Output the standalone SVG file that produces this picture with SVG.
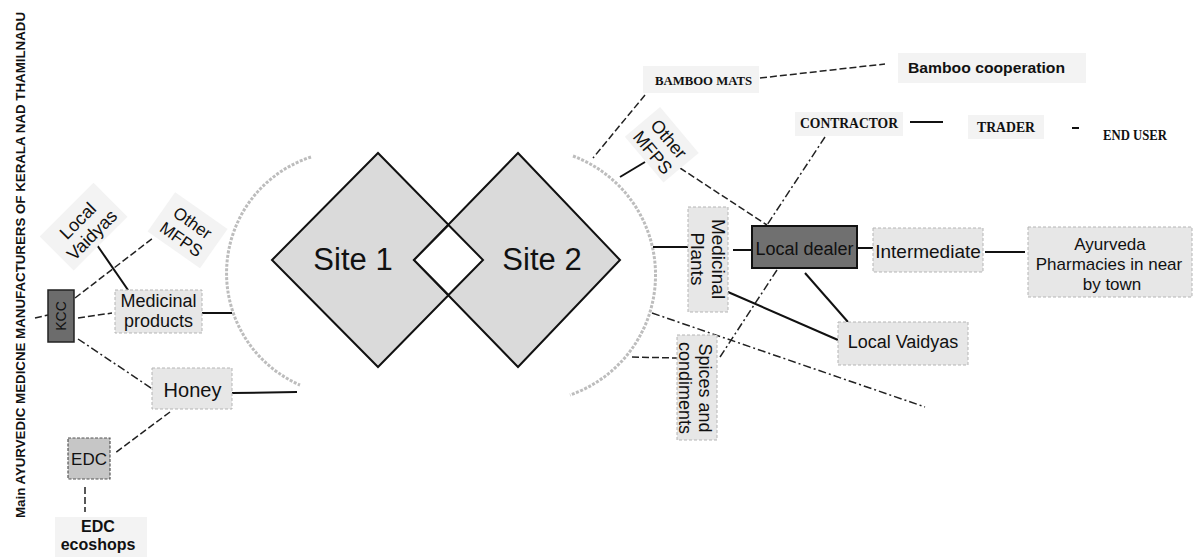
<svg xmlns="http://www.w3.org/2000/svg" width="1201" height="557" viewBox="0 0 1201 557">
<style>
  .lbl{font-family:"Liberation Sans",Arial,sans-serif;fill:#111;}
  .ser{font-family:"Liberation Serif","Times New Roman",serif;font-weight:bold;fill:#111;}
  .bg{fill:#e7e7e7;stroke:#b5b5b5;stroke-width:1;stroke-dasharray:3 2;}
  .faint{fill:#f3f3f3;stroke:none;}
  .dia{fill:#dadada;stroke:#111;stroke-width:2;}
  .solid{stroke:#111;stroke-width:2;fill:none;}
  .dash{stroke:#222;stroke-width:1.5;fill:none;stroke-dasharray:7 3;}
  .dd{stroke:#222;stroke-width:1.5;fill:none;stroke-dasharray:8 3 2 3;}
  .arc{stroke:#bdbdbd;stroke-width:3;fill:none;stroke-dasharray:3 1.5;}
</style>
<rect width="1201" height="557" fill="#ffffff"/>

<!-- vertical title -->
<g id="title">
  <text class="lbl" transform="translate(19,265) rotate(-90)" y="6" text-anchor="middle" font-size="13" font-weight="bold" textLength="506" lengthAdjust="spacingAndGlyphs">Main AYURVEDIC MEDICNE MANUFACTURERS OF KERALA NAD THAMILNADU</text>
</g>

<!-- arcs -->
<g id="arcs">
  <path class="arc" d="M 311 157 A 122 122 0 0 0 300 385"/>
  <path class="arc" d="M 573 156 A 127 127 0 0 1 570 395"/>
</g>

<!-- connectors -->
<g id="connectors">
  <line class="dash" x1="35" y1="318" x2="48" y2="315"/>
  <line class="dash" x1="75" y1="298" x2="153" y2="238"/>
  <line class="solid" x1="97" y1="245" x2="128" y2="290"/>
  <line class="dash" x1="78" y1="318" x2="112" y2="313"/>
  <line class="dd" x1="78" y1="339" x2="160" y2="394"/>
  <line class="solid" x1="202" y1="313" x2="232" y2="313"/>
  <line class="solid" x1="232" y1="393" x2="297" y2="392"/>
  <line class="dash" x1="170" y1="412" x2="115" y2="453"/>
  <line class="dash" x1="85" y1="487" x2="85" y2="512" stroke-dasharray="5 3"/>

  <line class="dash" x1="645" y1="95" x2="593" y2="158"/>
  <line class="dash" x1="760" y1="78" x2="885" y2="64"/>
  <line class="solid" x1="620" y1="177" x2="645" y2="162"/>
  <line class="dash" x1="680" y1="168" x2="767" y2="225"/>
  <line class="dd" x1="825" y1="137" x2="767" y2="225"/>
  <line class="dd" x1="777" y1="270" x2="720" y2="357"/>
  <line class="solid" x1="910" y1="122" x2="943" y2="122" stroke-width="1.5"/>
  <line class="solid" x1="1072" y1="128" x2="1079" y2="128" stroke-width="1.5"/>
  <line class="solid" x1="653" y1="247" x2="688" y2="247"/>
  <line class="solid" x1="733" y1="250" x2="752" y2="250"/>
  <line class="solid" x1="857" y1="248" x2="873" y2="248"/>
  <line class="solid" x1="985" y1="252" x2="1025" y2="252"/>
  <line class="solid" x1="805" y1="273" x2="848" y2="322"/>
  <line class="solid" x1="728" y1="292" x2="838" y2="340"/>
  <line class="dd" x1="652" y1="313" x2="925" y2="407"/>
  <line class="dash" x1="632" y1="357" x2="677" y2="358"/>
</g>

<!-- diamonds -->
<g id="site1">
  <polygon class="dia" points="272,260 378,153 483,260 378,367"/>
</g>
<g id="site2">
  <polygon class="dia" points="414,260 518,153 620,260 518,367"/>
  <polygon points="448.5,225 483,260 448.5,295 414,260" fill="#ffffff" stroke="#111" stroke-width="2"/>
  <text class="lbl" x="353" y="270" text-anchor="middle" font-size="31">Site 1</text>
  <text class="lbl" x="542" y="270" text-anchor="middle" font-size="31">Site 2</text>
</g>

<!-- left side nodes -->
<g id="kcc">
  <rect x="48" y="290" width="26" height="52" fill="#6c6c6c" stroke="#222" stroke-width="1.5"/>
  <text class="lbl" transform="translate(61,316) rotate(-90)" y="5" text-anchor="middle" font-size="14">KCC</text>
</g>
<g id="local-vaidyas-left" transform="translate(85,228) rotate(-45)">
  <rect class="faint" x="-38" y="-26" width="76" height="48" fill="#ececec"/>
  <text class="lbl" y="-4" text-anchor="middle" font-size="18">Local</text>
  <text class="lbl" y="16" text-anchor="middle" font-size="18">Vaidyas</text>
</g>
<g id="other-mfps-left" transform="translate(187,231) rotate(35)">
  <rect class="faint" x="-32" y="-25" width="64" height="48" fill="#ececec"/>
  <text class="lbl" y="-4" text-anchor="middle" font-size="17">Other</text>
  <text class="lbl" y="16" text-anchor="middle" font-size="17">MFPS</text>
</g>
<g id="medicinal-products">
  <rect class="bg" x="115" y="290" width="87" height="43"/>
  <text class="lbl" x="158.5" y="307" text-anchor="middle" font-size="18">Medicinal</text>
  <text class="lbl" x="158.5" y="327" text-anchor="middle" font-size="18">products</text>
</g>
<g id="honey">
  <rect class="bg" x="152" y="368" width="80" height="41"/>
  <text class="lbl" x="192.5" y="397" text-anchor="middle" font-size="20">Honey</text>
</g>
<g id="edc">
  <rect x="68" y="438" width="42" height="41" fill="#c6c6c6" stroke="#555" stroke-width="1.2" stroke-dasharray="3 1.5"/>
  <text class="lbl" x="89" y="465" text-anchor="middle" font-size="17">EDC</text>
</g>
<g id="edc-ecoshops">
  <rect class="faint" x="55" y="517" width="92" height="40"/>
  <text class="lbl" x="98" y="532" text-anchor="middle" font-size="16" font-weight="bold">EDC</text>
  <text class="lbl" x="98" y="550" text-anchor="middle" font-size="16" font-weight="bold">ecoshops</text>
</g>

<!-- right side nodes -->
<g id="bamboo-mats">
  <rect class="faint" x="643" y="66" width="116" height="27"/>
  <text class="ser" x="655" y="85" font-size="13" textLength="97" lengthAdjust="spacingAndGlyphs">BAMBOO MATS</text>
</g>
<g id="bamboo-cooperation">
  <rect class="faint" x="898" y="53" width="188" height="30" fill="#efefef"/>
  <text class="lbl" x="908" y="73" font-size="15" font-weight="bold" textLength="157" lengthAdjust="spacingAndGlyphs">Bamboo cooperation</text>
</g>
<g id="other-mfps-right" transform="translate(661,145.5) rotate(50)">
  <rect class="faint" x="-30" y="-24" width="60" height="46" fill="#f0f0f0"/>
  <text class="lbl" y="-4" text-anchor="middle" font-size="18">Other</text>
  <text class="lbl" y="17" text-anchor="middle" font-size="18">MFPS</text>
</g>
<g id="contractor">
  <rect class="faint" x="795" y="112" width="108" height="24"/>
  <text class="ser" x="800" y="128" font-size="14" textLength="98" lengthAdjust="spacingAndGlyphs">CONTRACTOR</text>
</g>
<g id="trader">
  <rect class="faint" x="968" y="115" width="76" height="24"/>
  <text class="ser" x="977" y="132" font-size="14" textLength="58" lengthAdjust="spacingAndGlyphs">TRADER</text>
</g>
<g id="end-user">
  <text class="ser" x="1103" y="140" font-size="14" textLength="64" lengthAdjust="spacingAndGlyphs">END USER</text>
</g>
<g id="medicinal-plants">
  <rect class="bg" x="688" y="207" width="40" height="105"/>
  <g transform="translate(708,259) rotate(90)">
    <text class="lbl" y="-3.5" text-anchor="middle" font-size="19">Medicinal</text>
    <text class="lbl" y="17.5" text-anchor="middle" font-size="19">Plants</text>
  </g>
</g>
<g id="spices">
  <rect class="bg" x="677" y="335" width="40" height="105"/>
  <g transform="translate(696,388) rotate(90)">
    <text class="lbl" y="-2.5" text-anchor="middle" font-size="18">Spices and</text>
    <text class="lbl" y="17.5" text-anchor="middle" font-size="18">condiments</text>
  </g>
</g>
<g id="local-dealer">
  <rect x="752" y="226" width="105" height="42" fill="#707070" stroke="#111" stroke-width="2"/>
  <text class="lbl" x="804.5" y="255" text-anchor="middle" font-size="18">Local dealer</text>
</g>
<g id="intermediate">
  <rect class="bg" x="873" y="228" width="110" height="44"/>
  <text class="lbl" x="928" y="258" text-anchor="middle" font-size="19">Intermediate</text>
</g>
<g id="ayurveda">
  <rect class="bg" x="1028" y="227" width="164" height="70" stroke="none" fill="#ececec"/>
  <text class="lbl" x="1110" y="250" text-anchor="middle" font-size="17">Ayurveda</text>
  <text class="lbl" x="1109" y="270" text-anchor="middle" font-size="17">Pharmacies in near</text>
  <text class="lbl" x="1112" y="290" text-anchor="middle" font-size="17">by town</text>
</g>
<g id="local-vaidyas-right">
  <rect class="bg" x="838" y="322" width="130" height="43"/>
  <text class="lbl" x="903" y="348" text-anchor="middle" font-size="18">Local Vaidyas</text>
</g>
</svg>
